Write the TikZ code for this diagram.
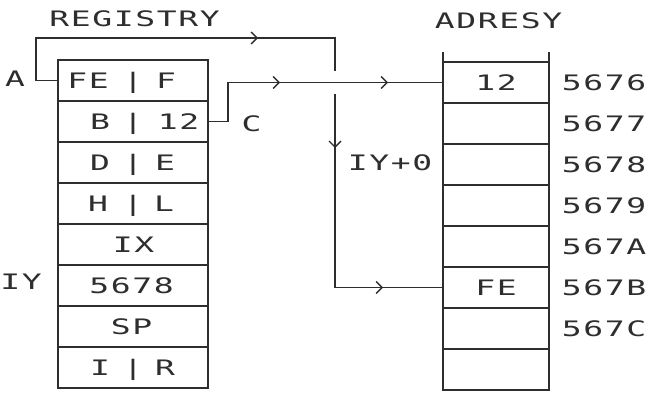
\documentclass[tikz,border=0pt]{standalone}
\usepackage{fontspec}
\newfontfamily\dm[FakeStretch=1.55]{DejaVu Sans Mono}
\usetikzlibrary{arrows.meta,decorations.markings,backgrounds}
\makeatletter
\newcommand\gtxt[1]{\gt@a#1\@nil}
\def\gt@a#1{\ifx#1\@nil\else\makebox[21.5pt][c]{#1}\expandafter\gt@a\fi}
\makeatother
\definecolor{inkc}{gray}{0.18}
\begin{document}
\begin{tikzpicture}[x=1pt,y=-1pt,
  ink/.style={draw=inkc, line width=1.3pt},
  reg/.style={ink, minimum width=150pt, minimum height=41pt, inner sep=0pt, outer sep=0pt},
  mem/.style={ink, minimum width=106pt, minimum height=41pt, inner sep=0pt, outer sep=0pt},
  txt/.style={inner sep=0pt, outer sep=0pt, text=inkc, font=\dm\fontsize{21.3}{24}\selectfont, text height=15.5pt, text depth=0pt},
  barb/.tip={Straight Barb[length=6pt,width=12pt]}
]
\useasboundingbox (0,0) rectangle (648,396);
\begin{scope}[on background layer]
  \fill[white] (0,0) rectangle (648,396);
\end{scope}

% register cells
\foreach \i in {1,...,8} {
  \node[reg] (r\i) at (133, 80.5+41*\i-41) {};
}
% memory cells
\foreach \i in {1,...,8} {
  \node[mem] (m\i) at (496, 82.5+41*\i-41) {};
}
\draw[ink] (m1.north west) -- ++(0,-10);
\draw[ink] (m1.north east) -- ++(0,-10);

% titles
\node[txt] (treg) at (134.5,18.5) {\gtxt{REGISTRY}};
\node[txt] (tadr) at (498.5,20.5) {\gtxt{ADRESY}};

% register contents
\node[txt] (r1a) at (88,80.5) {\gtxt{FE}};
\node[txt] (r1b) at (133,80.5) {|};
\node[txt] (r1c) at (166,80.5) {\gtxt{F}};
\node[txt] (r2a) at (100,121.5) {\gtxt{B}};
\node[txt] (r2b) at (133,121.5) {|};
\node[txt] (r2c) at (178.5,121.5) {\gtxt{12}};
\node[txt] (r3a) at (100,162.5) {\gtxt{D}};
\node[txt] (r3b) at (133,162.5) {|};
\node[txt] (r3c) at (165,162.5) {\gtxt{E}};
\node[txt] (r4a) at (98,203.5) {\gtxt{H}};
\node[txt] (r4b) at (133,203.5) {|};
\node[txt] (r4c) at (164,203.5) {\gtxt{L}};
\node[txt] (r5a) at (133.5,244.5) {\gtxt{IX}};
\node[txt] (r6a) at (131.5,285.5) {\gtxt{5678}};
\node[txt] (r7a) at (131.5,326.5) {\gtxt{SP}};
\node[txt] (r8a) at (100,367.5) {\gtxt{I}};
\node[txt] (r8b) at (133,367.5) {|};
\node[txt] (r8c) at (165,367.5) {\gtxt{R}};

% memory contents
\node[txt] (m1a) at (m1.center) {\gtxt{12}};
\node[txt] (m6a) at (m6.center) {\gtxt{FE}};

% addresses
\node[txt] (ad1) at (604,82.5)  {\gtxt{5676}};
\node[txt] (ad2) at (604,123.5) {\gtxt{5677}};
\node[txt] (ad3) at (604,164.5) {\gtxt{5678}};
\node[txt] (ad4) at (604,205.5) {\gtxt{5679}};
\node[txt] (ad5) at (604,246.5) {\gtxt{567A}};
\node[txt] (ad6) at (604,287.5) {\gtxt{567B}};
\node[txt] (ad7) at (604,328.5) {\gtxt{567C}};

% labels
\node[txt] (la) at (15,79) {\gtxt{A}};
\node[txt] (lc) at (251.5,124) {\gtxt{C}};
\node[txt] (liy) at (21,282) {\gtxt{IY}};
\node[txt] (liy0) at (390,163) {\gtxt{IY+0}};

% connector coordinates
\coordinate (a1) at (36,80.5);
\coordinate (a2) at (36,38);
\coordinate (a3) at (335,38);
\coordinate (c1) at (228,121.5);

\begin{scope}[on background layer]
  \draw[ink, decoration={markings,
      mark=at position 286.5pt with {\arrow{barb}},
      mark=at position 473.5pt with {\arrow{barb}},
      mark=at position 661pt with {\arrow{barb}}}, postaction=decorate]
    (r1.west) -- (a1) -- (a2) -- (a3) -- (a3 |- m6.west) -- (m6.west);
  \draw[ink, preaction={draw=white, line width=22pt},
      decoration={markings,
      mark=at position 111pt with {\arrow{barb}},
      mark=at position 219pt with {\arrow{barb}}}, postaction=decorate]
    (r2.east) -- (c1) -- (c1 |- m1.west) -- (m1.west);
\end{scope}
\end{tikzpicture}
\end{document}
